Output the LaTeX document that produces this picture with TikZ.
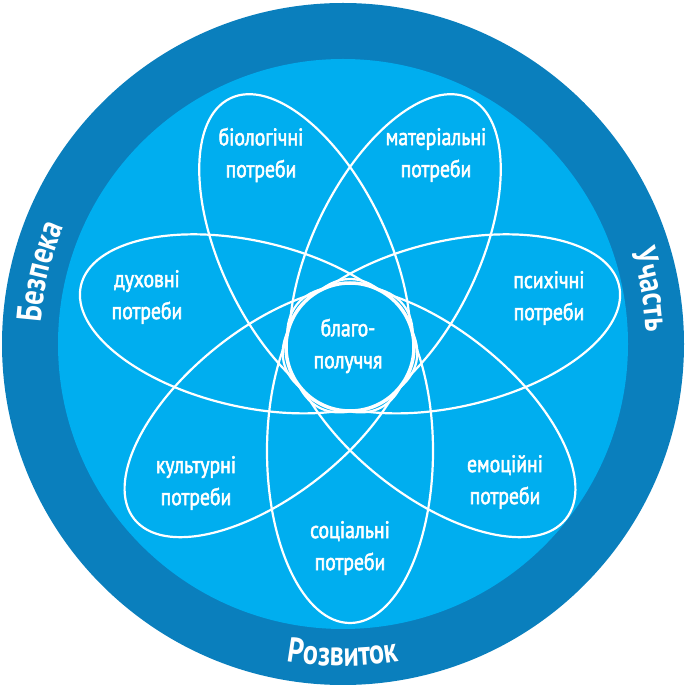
\documentclass[tikz,border=0pt]{standalone}
\usepackage{fontspec}
\setmainfont{PT Sans}
\newfontfamily\lblfont{PT Sans}[FakeStretch=0.82, FakeBold=2.2]
\newfontfamily\ringfont{PT Sans}[FakeStretch=0.8]
\usetikzlibrary{decorations.text,calc}
\definecolor{ringblue}{HTML}{0A7FBD}
\definecolor{innerblue}{HTML}{00AEEF}
\tikzset{
  petal/.style={draw=white, line width=2.2pt},
  lbl/.style={text=white, align=center, inner sep=0pt, font=\lblfont\fontsize{24}{32}\selectfont},
  hub/.style={circle, draw=white, line width=3.5pt, fill=innerblue, minimum size=128pt, inner sep=0pt},
  ringtext/.style={decorate, decoration={text along path, text align=center, text color=white}}
}
\begin{document}
\begin{tikzpicture}[x=1pt,y=1pt]
\useasboundingbox (0,0) rectangle (685,686);
\coordinate (C) at (343,342);
\coordinate (F) at (350,339);
\fill[ringblue] (C) circle[radius=341pt];
\fill[innerblue] (C) circle[radius=285pt];
\foreach \k in {0,...,6}{
  \pgfmathsetmacro\th{-90+\k*360/7}
  \draw[petal, shift={(F)}, rotate=\th] (104,0) ellipse[x radius=172pt, y radius=83pt];
}
\node[hub] (hub) at (F) {};
\node[lbl] (hubtext) at (348,340) {благо-\\получчя};
\node[lbl] (bio) at (261,531) {біологічні\\потреби};
\node[lbl] (mat) at (436,531) {матеріальні\\потреби};
\node[lbl] (spir) at (147,389) {духовні\\потреби};
\node[lbl] (psy) at (549,388) {психічні\\потреби};
\node[lbl] (cult) at (196,203) {культурні\\потреби};
\node[lbl] (emo) at (505,204) {емоційні\\потреби};
\node[lbl] (soc) at (350,138) {соціальні\\потреби};
\path[ringtext, decoration={text={|\ringfont\bfseries\fontsize{35}{35}\selectfont|Безпека}}]
  (C) ++(205:303pt) arc[start angle=205, end angle=128, radius=303pt];
\path[ringtext, decoration={text={|\ringfont\bfseries\fontsize{35}{35}\selectfont|Участь}}]
  (C) ++(50:303pt) arc[start angle=50, end angle=-30, radius=303pt];
\path[ringtext, decoration={text={|\ringfont\bfseries\fontsize{35}{35}\selectfont|Розвиток}}]
  (C) ++(230:322pt) arc[start angle=230, end angle=310, radius=322pt];
\end{tikzpicture}
\end{document}
